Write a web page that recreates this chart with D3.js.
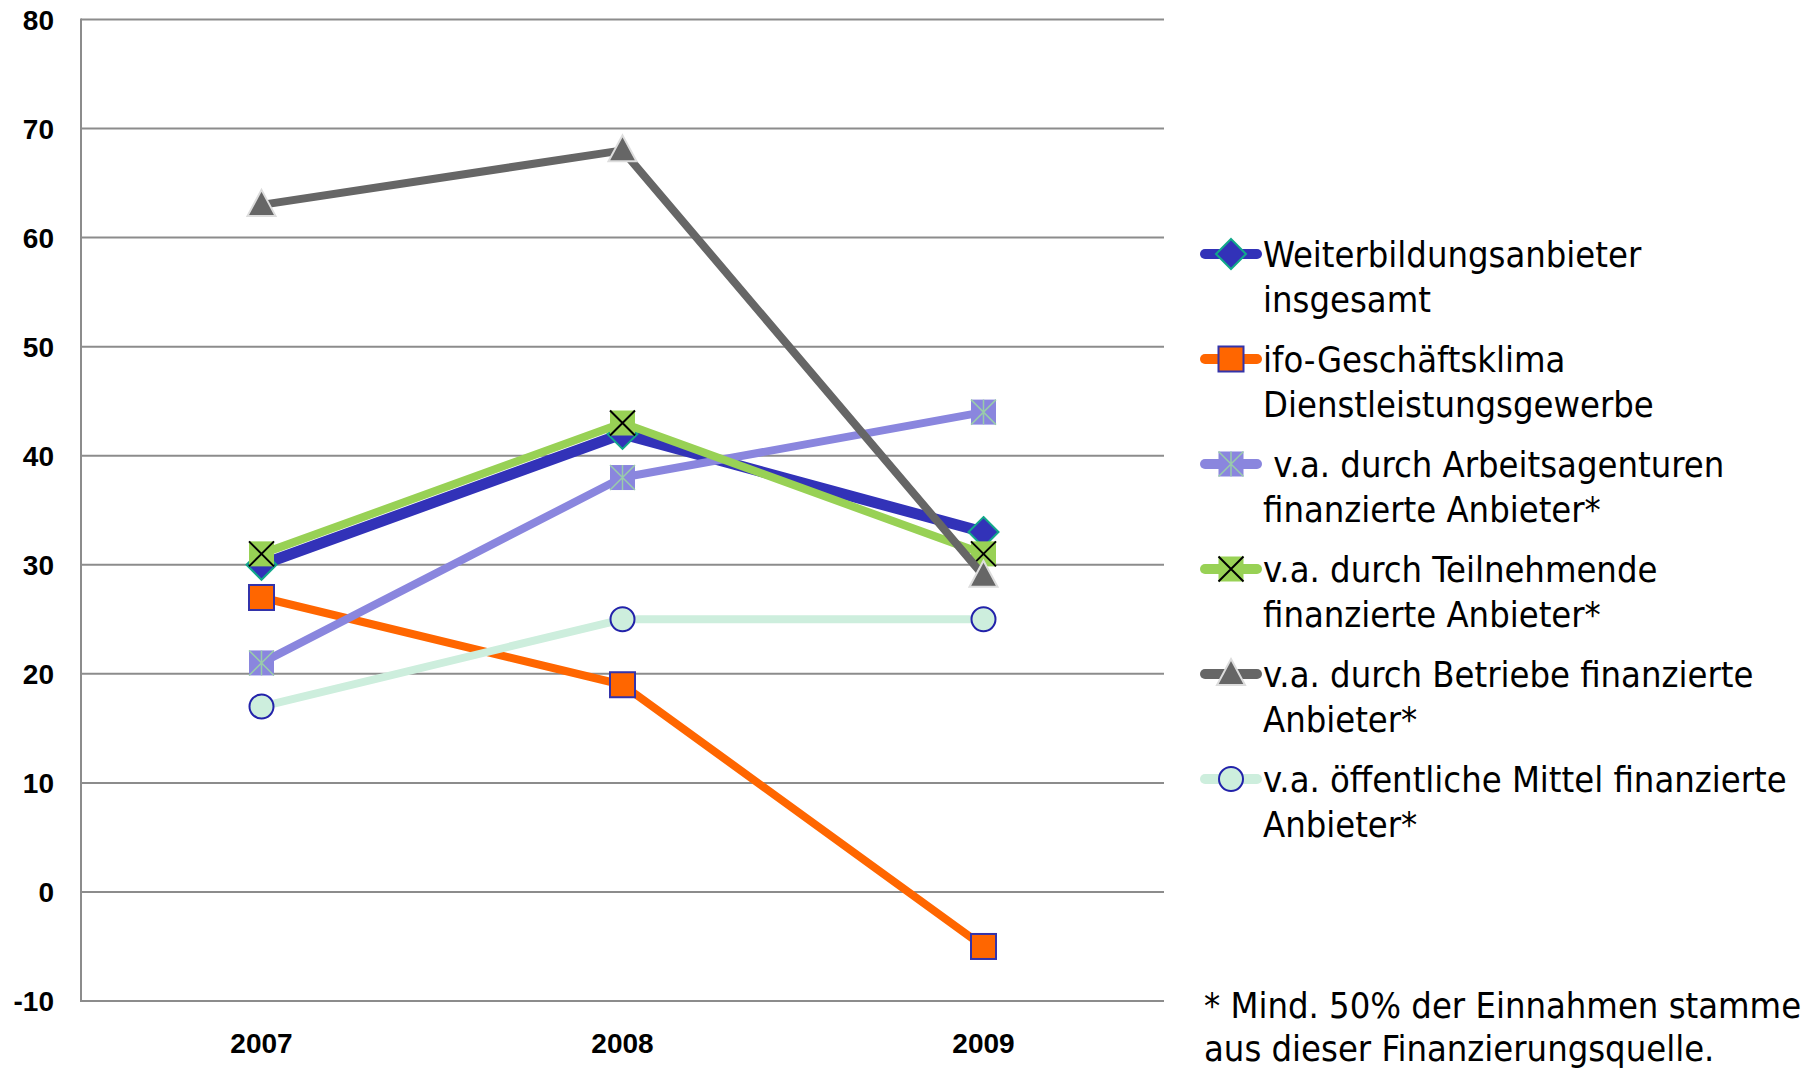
<!DOCTYPE html>
<html>
<head>
<meta charset="utf-8">
<script src="https://cdn.jsdelivr.net/npm/d3@7"></script>
<style>
  body { margin: 0; background: #fff; }
  svg { display: block; }
  .tick-label { font-family: "Liberation Sans", Arial, sans-serif; font-weight: bold; font-size: 28px; fill: #000; }
  .legend-text { font-family: "DejaVu Sans Condensed", "DejaVu Sans", sans-serif; font-stretch: condensed; font-size: 36px; fill: #000; }
</style>
</head>
<body>
<div id="chart"></div>
<script>
// Chart data
var years = ["2007", "2008", "2009"];
var yTicks = [-10, 0, 10, 20, 30, 40, 50, 60, 70, 80];

var seriesNames = [
  ["Weiterbildungsanbieter", "insgesamt"],
  ["ifo-Geschäftsklima", "Dienstleistungsgewerbe"],
  [" v.a. durch Arbeitsagenturen", "finanzierte Anbieter*"],
  ["v.a. durch Teilnehmende", "finanzierte Anbieter*"],
  ["v.a. durch Betriebe finanzierte", "Anbieter*"],
  ["v.a. öffentliche Mittel finanzierte", "Anbieter*"]
];
var valuesGesamt = [30, 42, 33];
var valuesIfo = [27, 19, -5];
var valuesAgentur = [21, 38, 44];
var valuesTeilnehmende = [31, 43, 31];
var valuesBetriebe = [63, 68, 29];
var valuesOeffentlich = [17, 25, 25];

// the reference cuts this note off at the right edge
var footnote = ["* Mind. 50% der Einnahmen stammen", "aus dieser Finanzierungsquelle."];

// layout
var width = 1802;
var height = 1069;
var plotLeft = 81, plotRight = 1164, plotTop = 19.5, plotBottom = 1001;

// series styles
var styles = [
  { line: "#3232b8", width: 11, marker: "diamond", fill: "#3232b8", stroke: "#12a88a" },
  { line: "#ff6600", width: 8, marker: "square", fill: "#ff6600", stroke: "#3333aa" },
  { line: "#8a86de", width: 8, marker: "star", fill: "#8a86de", stroke: "#99ccaa" },
  { line: "#98d155", width: 8, marker: "cross", fill: "#98d155", stroke: "#000000" },
  { line: "#666666", width: 8, marker: "triangle", fill: "#666666", stroke: "#dddddd" },
  { line: "#cdeedd", width: 8, marker: "circle", fill: "#cdeedd", stroke: "#2222aa" }
];

var allValues = [valuesGesamt, valuesIfo, valuesAgentur, valuesTeilnehmende, valuesBetriebe, valuesOeffentlich];

var svg = d3.select("#chart")
            .append("svg")
            .attr("width", width)
            .attr("height", height);

var x = d3.scaleBand()
          .domain(years)
          .range([plotLeft, plotRight]);

var y = d3.scaleLinear()
          .domain([-10, 80])
          .range([plotBottom, plotTop]);

// gridlines
svg.append("g")
   .selectAll("line")
   .data(yTicks)
   .enter()
   .append("line")
   .attr("x1", plotLeft)
   .attr("x2", plotRight)
   .attr("y1", function(d) { return y(d); })
   .attr("y2", function(d) { return y(d); })
   .attr("stroke", "#8c8c8c")
   .attr("stroke-width", 2);

// left axis line
svg.append("line")
   .attr("x1", plotLeft).attr("x2", plotLeft)
   .attr("y1", plotTop - 1).attr("y2", plotBottom + 1)
   .attr("stroke", "#8c8c8c")
   .attr("stroke-width", 2);

// y tick labels
svg.append("g")
   .selectAll("text")
   .data(yTicks)
   .enter()
   .append("text")
   .attr("class", "tick-label")
   .attr("x", 54)
   .attr("y", function(d) { return y(d); })
   .attr("dy", "0.36em")
   .attr("text-anchor", "end")
   .text(function(d) { return d; });

// x labels
svg.append("g")
   .selectAll("text")
   .data(years)
   .enter()
   .append("text")
   .attr("class", "tick-label")
   .attr("x", function(d) { return x(d) + x.bandwidth() / 2; })
   .attr("y", 1053)
   .attr("text-anchor", "middle")
   .text(function(d) { return d; });

// marker drawing
function drawMarker(g, type, st, cx, cy) {
  var s = 12.5;
  if (type == "diamond") {
    g.append("path")
     .attr("d", d3.line()([[cx, cy - 15], [cx + 15, cy], [cx, cy + 15], [cx - 15, cy]]) + "Z")
     .attr("fill", st.fill).attr("stroke", st.stroke).attr("stroke-width", 2);
  } else if (type == "square") {
    g.append("rect")
     .attr("x", cx - s).attr("y", cy - s).attr("width", 2 * s).attr("height", 2 * s)
     .attr("fill", st.fill).attr("stroke", st.stroke).attr("stroke-width", 2);
  } else if (type == "star") {
    g.append("rect")
     .attr("x", cx - s).attr("y", cy - s).attr("width", 2 * s).attr("height", 2 * s)
     .attr("fill", st.fill);
    g.append("path")
     .attr("d", "M" + (cx - s) + "," + (cy - s) + "L" + (cx + s) + "," + (cy + s) +
                "M" + (cx + s) + "," + (cy - s) + "L" + (cx - s) + "," + (cy + s) +
                "M" + cx + "," + (cy - s) + "L" + cx + "," + (cy + s))
     .attr("stroke", st.stroke).attr("stroke-width", 1.5).attr("fill", "none");
  } else if (type == "cross") {
    g.append("rect")
     .attr("x", cx - s).attr("y", cy - s).attr("width", 2 * s).attr("height", 2 * s)
     .attr("fill", st.fill);
    g.append("path")
     .attr("d", "M" + (cx - s) + "," + (cy - s) + "L" + (cx + s) + "," + (cy + s) +
                "M" + (cx + s) + "," + (cy - s) + "L" + (cx - s) + "," + (cy + s))
     .attr("stroke", st.stroke).attr("stroke-width", 2).attr("fill", "none");
  } else if (type == "triangle") {
    g.append("path")
     .attr("d", d3.line()([[cx, cy - 15], [cx + 14, cy + 11], [cx - 14, cy + 11]]) + "Z")
     .attr("fill", st.fill).attr("stroke", st.stroke).attr("stroke-width", 2);
  } else if (type == "circle") {
    g.append("circle")
     .attr("cx", cx).attr("cy", cy).attr("r", 12)
     .attr("fill", st.fill).attr("stroke", st.stroke).attr("stroke-width", 2);
  }
}

// series lines and markers
var line = d3.line()
             .x(function(d, i) { return x(years[i]) + x.bandwidth() / 2; })
             .y(function(d) { return y(d); });

allValues.forEach(function(vals, k) {
  var st = styles[k];
  var g = svg.append("g");
  g.append("path")
   .datum(vals)
   .attr("d", line)
   .attr("fill", "none")
   .attr("stroke", st.line)
   .attr("stroke-width", st.width)
   .attr("stroke-linejoin", "round");
  vals.forEach(function(v, i) {
    drawMarker(g, st.marker, st, x(years[i]) + x.bandwidth() / 2, y(v));
  });
});

// legend
var legendTop = 254, legendStep = 105, lineGap = 45;
seriesNames.forEach(function(name, k) {
  var st = styles[k];
  var ly = legendTop + k * legendStep;
  var g = svg.append("g");
  g.append("line")
   .attr("x1", 1205).attr("x2", 1257)
   .attr("y1", ly).attr("y2", ly)
   .attr("stroke", st.line)
   .attr("stroke-width", 10)
   .attr("stroke-linecap", "round");
  drawMarker(g, st.marker, st, 1231, ly);
  g.append("text")
   .attr("class", "legend-text")
   .attr("x", 1263)
   .attr("y", ly + 13)
   .attr("xml:space", "preserve")
   .style("white-space", "pre")
   .text(name[0]);
  g.append("text")
   .attr("class", "legend-text")
   .attr("x", 1263)
   .attr("y", ly + 13 + lineGap)
   .text(name[1]);
});

// footnote
svg.append("g")
   .selectAll("text")
   .data(footnote)
   .enter()
   .append("text")
   .attr("class", "legend-text")
   .attr("x", 1204)
   .attr("y", function(d, i) { return 1018 + i * 43; })
   .text(function(d) { return d; });
</script>
</body>
</html>
